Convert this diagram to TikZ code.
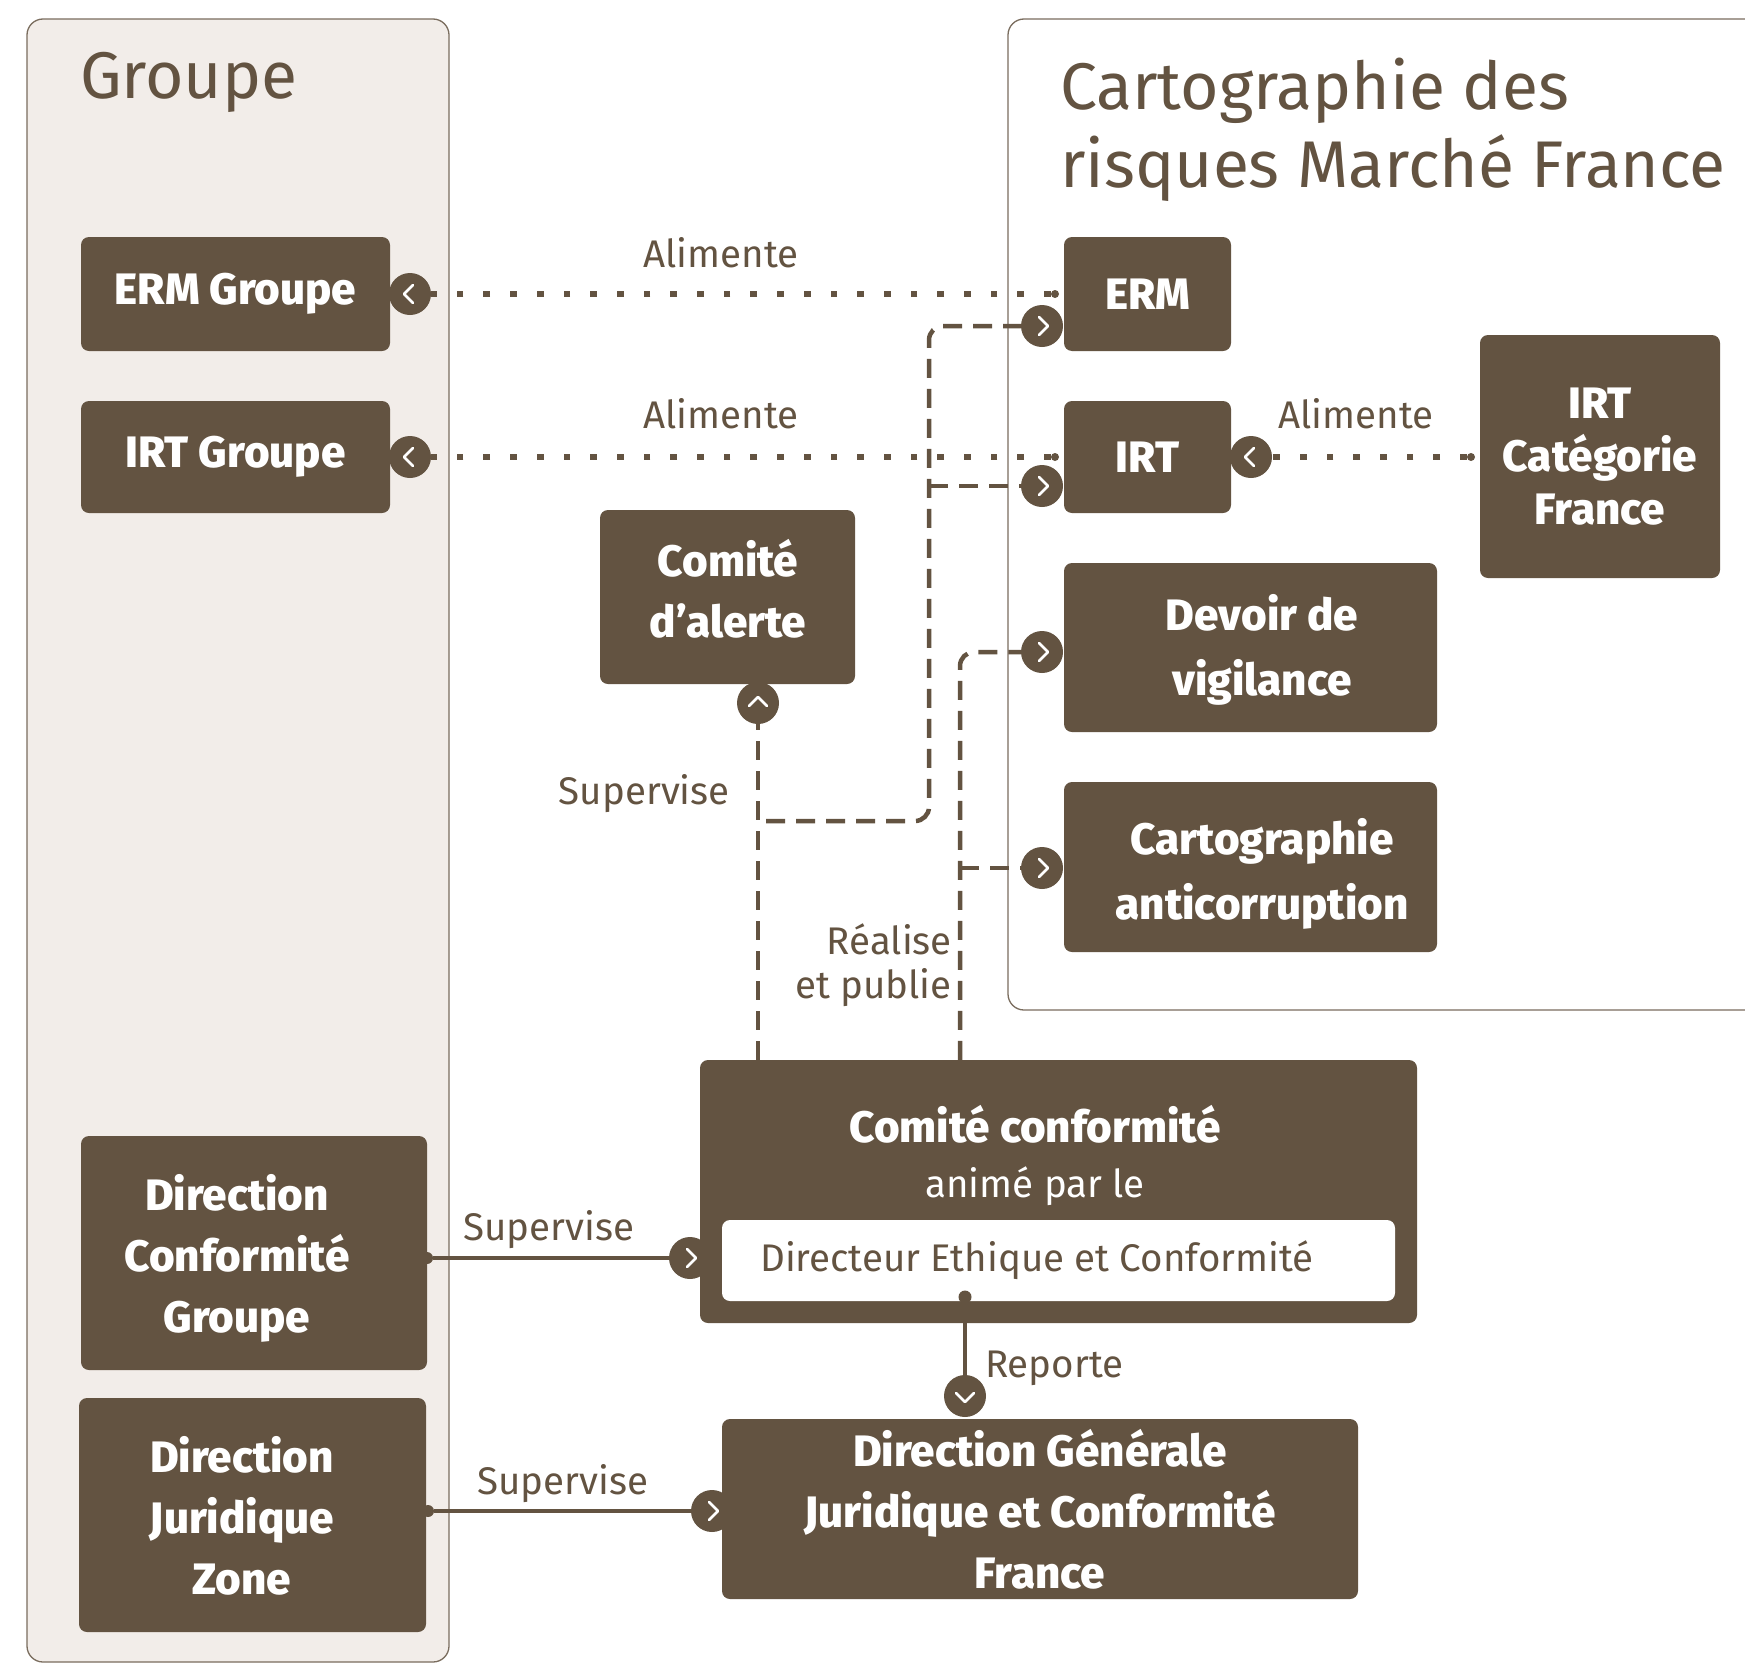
\documentclass[tikz,border=0pt]{standalone}
\usepackage{fontspec}
\setmainfont{Fira Sans}
\newfontfamily\hvy{Fira Sans}[UprightFont={* ExtraBold}]
\usetikzlibrary{calc}
\definecolor{brn}{HTML}{635341}
\definecolor{pan}{HTML}{F2EDE9}
\pgfdeclarelayer{back}
\pgfdeclarelayer{mid}
\pgfsetlayers{back,mid,main}
\tikzset{
  box/.style={fill=brn, rounded corners=8pt, inner sep=0pt, text=white, align=center,
    font=\hvy\fontsize{44}{61}\selectfont},
  btxt/.style={text=white, align=center, inner sep=0pt, font=\hvy\fontsize{44}{61}\selectfont},
  knob/.style={circle, fill=brn, minimum size=42pt, inner sep=0pt},
  dotn/.style={circle, fill=brn, minimum size=#1, inner sep=0pt},
  chev/.style={white, line width=2.6pt, line cap=round, line join=round},
  dotl/.style={brn, line width=6.7pt, dash pattern=on 6.7pt off 20pt},
  dashl/.style={brn, line width=4.5pt, dash pattern=on 19pt off 11pt},
  soll/.style={brn, line width=3.5pt},
  lab/.style={text=brn, inner sep=0pt, font=\fontsize{38.5}{46}\selectfont},
  ttl/.style={text=brn, inner sep=0pt, font=\fontsize{66}{78}\selectfont},
  pics/chl/.style={code={\draw[chev] (4,-9) -- (-5,0) -- (4,9);}},
  pics/chr/.style={code={\draw[chev] (-4,-9) -- (5,0) -- (-4,9);}},
  pics/chu/.style={code={\draw[chev] (-9,4) -- (0,-5) -- (9,4);}},
  pics/chd/.style={code={\draw[chev] (-9,-4) -- (0,5) -- (9,-4);}},
}
\begin{document}
\begin{tikzpicture}[x=1pt,y=-1pt]
\useasboundingbox (0,0) rectangle (1745,1665);
\clip (0,0) rectangle (1745,1665);

% panels
\begin{pgfonlayer}{back}
\fill[white] (0,0) rectangle (1745,1665);
\draw[brn!85, line width=1.3pt, fill=pan, rounded corners=16pt] (27,19) rectangle (449,1662);
\draw[brn!85, line width=1.3pt, fill=white, rounded corners=16pt] (1008,19) rectangle (1790,1010);
\end{pgfonlayer}

% titles
\node[ttl, anchor=base west] (tg) at (80,98) {Groupe};
\node[ttl, anchor=base west] (tc1) at (1060,109) {Cartographie des};
\node[ttl, anchor=base west] (tc2) at (1060,187) {risques Marché France};

% boxes
\node[box, minimum width=309pt, minimum height=114pt] (ermg) at (235.5,294) {ERM Groupe};
\node[box, minimum width=309pt, minimum height=112pt] (irtg) at (235.5,457) {IRT Groupe};
\node[box, minimum width=167pt, minimum height=114pt] (erm) at (1147.5,294) {ERM};
\node[box, minimum width=167pt, minimum height=112pt] (irt) at (1147.5,457) {IRT};
\node[box, minimum width=240pt, minimum height=243pt, font=\hvy\fontsize{44}{53}\selectfont] (irtc) at (1600,456.5) {IRT\\Catégorie\\France};
\node[box, minimum width=373pt, minimum height=169pt] (dev) at (1250.5,647.5) {};
\node[btxt, font=\hvy\fontsize{44}{65}\selectfont] (devt) at (1262,650) {Devoir de\\vigilance};
\node[box, minimum width=373pt, minimum height=170pt] (cac) at (1250.5,867) {};
\node[btxt, font=\hvy\fontsize{44}{65}\selectfont] (cact) at (1262,874) {Cartographie\\anticorruption};
\node[box, minimum width=255pt, minimum height=174pt] (ala) at (727.5,597) {};
\node[btxt] (alat) at (728,589) {Comité\\d’alerte};
\node[box, minimum width=717pt, minimum height=263pt] (cc) at (1058.5,1191.5) {};
\node[fill=white, rounded corners=8pt, minimum width=673pt, minimum height=81pt, inner sep=0pt] (wb) at (1058.5,1260.5) {};
\node[btxt, anchor=base] (cct) at (1035,1142) {Comité conformité};
\node[lab, text=white, anchor=base] (ccp) at (1035,1197) {animé par le};
\node[lab, anchor=base west] (dir) at (760,1271) {Directeur Ethique et Conformité};
\node[box, minimum width=636pt, minimum height=180pt] (dg) at (1040,1509) {Direction Générale\\Juridique et Conformité\\France};
\node[box, minimum width=346pt, minimum height=234pt] (dcg) at (254,1253) {};
\node[btxt] (dcgt) at (237,1258) {Direction\\Conformité\\Groupe};
\node[box, minimum width=347pt, minimum height=234pt] (djz) at (252.5,1515) {};
\node[btxt] (djzt) at (242,1516) {Direction\\Juridique\\Zone};

% knobs
\node[knob] (ermgk) at (410,294) {}; \pic at ([xshift=-1pt]ermgk) {chl};
\node[knob] (irtgk) at (410,457) {}; \pic at ([xshift=-1pt]irtgk) {chl};
\node[knob] (ermk) at (1042,326) {}; \pic at ([xshift=1pt]ermk) {chr};
\node[knob] (irtk) at (1042,486) {}; \pic at ([xshift=1pt]irtk) {chr};
\node[knob] (irtrk) at (1251,457) {}; \pic at ([xshift=-1pt]irtrk) {chl};
\node[knob] (devk) at (1042,652) {}; \pic at ([xshift=1pt]devk) {chr};
\node[knob] (cack) at (1042,868) {}; \pic at ([xshift=1pt]cack) {chr};
\node[knob] (alk) at (758,703) {}; \pic at ([yshift=1pt]alk) {chu};
\node[knob] (cck) at (690,1258) {}; \pic at ([xshift=1pt]cck) {chr};
\node[knob] (dgk) at (712,1511) {}; \pic at ([xshift=1pt]dgk) {chr};
\node[knob] (dgtk) at (965,1396) {}; \pic at ([yshift=-1pt]dgtk) {chd};

% dots
\node[dotn=8pt] (ermdot) at (1055,294) {};
\node[dotn=8pt] (irtdot) at (1055,457) {};
\node[dotn=8pt] (irtcdot) at (1471,457) {};
\node[dotn=12pt] (dcgdot) at (427,1258) {};
\node[dotn=12pt] (djzdot) at (428,1511) {};
\node[dotn=13pt] (wbdot) at (965,1297) {};

% junction coordinates
\coordinate (supj) at (766,821);
\coordinate (ermx) at (929,0);
\coordinate (rx) at (960,0);

% connectors
\begin{pgfonlayer}{mid}
\draw[dotl] (ermdot.west) -- (ermgk.east);
\draw[dotl] (irtdot.west) -- (irtgk.east);
\draw[dotl] (irtcdot.west) -- (irtrk.east);
\draw[dashl] (cc.north -| alk) -- (alk.south);
\draw[dashl, rounded corners=14pt] (supj) -- (supj -| ermx) -- (ermx |- ermk) -- (ermk.west);
\draw[dashl] (ermx |- irtk) -- (irtk.west);
\draw[dashl, rounded corners=14pt] (cc.north -| rx) -- (rx |- devk) -- (devk.west);
\draw[dashl] (rx |- cack) -- (cack.west);
\draw[soll] (dcgdot) -- (cck);
\draw[soll] (djzdot) -- (dgk);
\draw[soll] (wbdot) -- (dgtk);
\end{pgfonlayer}

% labels
\node[lab, anchor=base] (la1) at (721,267) {Alimente};
\node[lab, anchor=base] (la2) at (721,428) {Alimente};
\node[lab, anchor=base] (la3) at (1356,428) {Alimente};
\node[lab, anchor=base east] (ls1) at (730,804) {Supervise};
\node[lab, anchor=base east] (lr1) at (952,954) {Réalise};
\node[lab, anchor=base east] (lr2) at (952,998) {et publie};
\node[lab, anchor=base] (ls2) at (549,1240) {Supervise};
\node[lab, anchor=base] (ls3) at (563,1494) {Supervise};
\node[lab, anchor=base west] (lrep) at (985,1377) {Reporte};
\end{tikzpicture}
\end{document}
